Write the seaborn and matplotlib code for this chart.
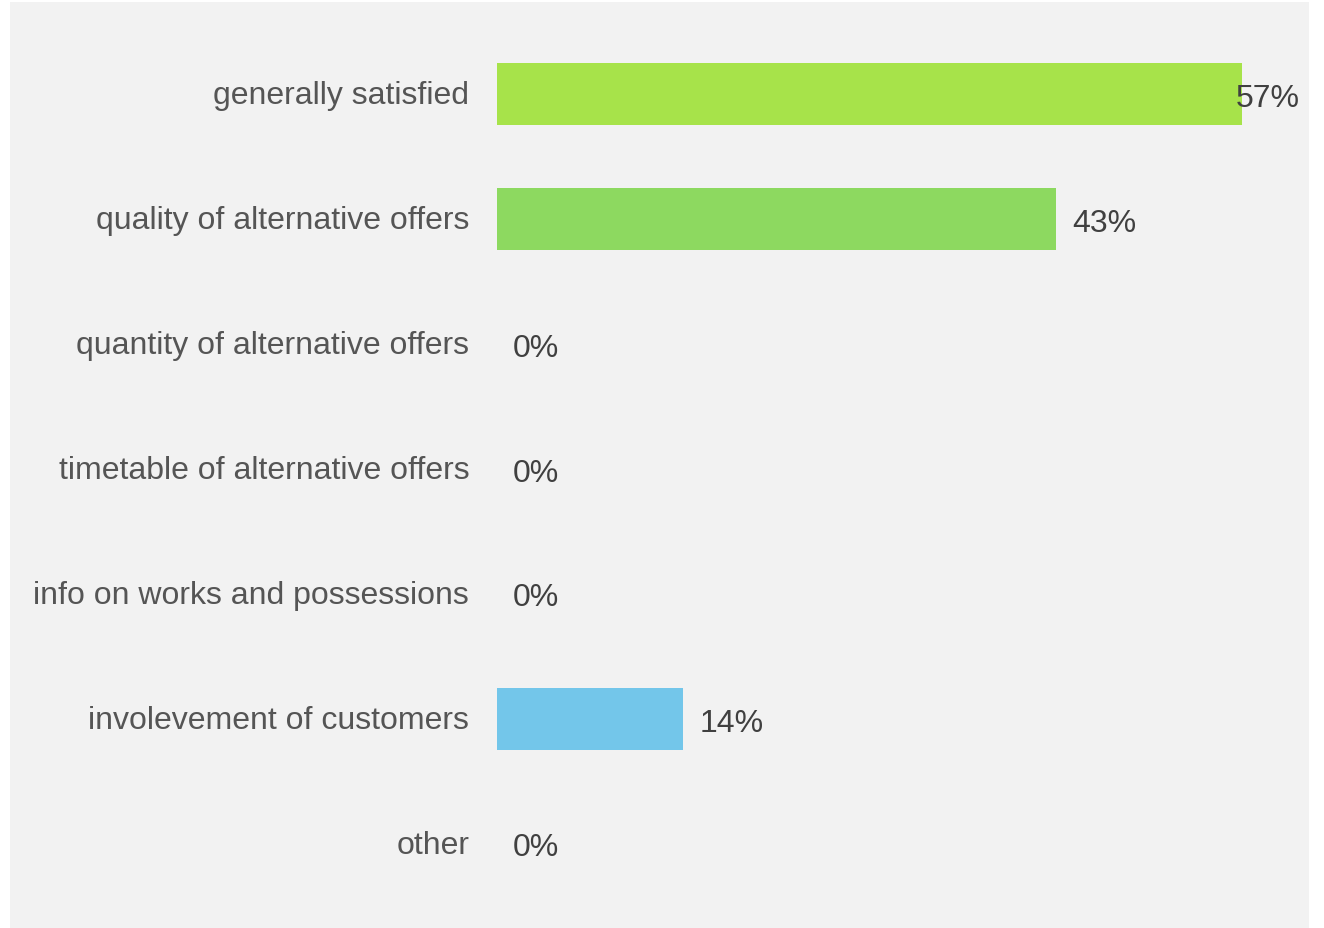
import matplotlib
matplotlib.use("Agg")
import matplotlib.pyplot as plt
import seaborn as sns
import pandas as pd
from matplotlib.patches import Rectangle
from matplotlib.transforms import offset_copy, ScaledTranslation

categories = ["generally satisfied", "quality of alternative offers",
              "quantity of alternative offers", "timetable of alternative offers",
              "info on works and possessions", "involevement of customers", "other"]
values = [57.14, 42.86, 0, 0, 0, 14.29, 0]
labels = ["57%", "43%", "0%", "0%", "0%", "14%", "0%"]
colors = ["#a7e34a", "#8dd960", "#8dd960", "#8dd960", "#8dd960", "#73c6ea", "#73c6ea"]

sns.set_theme(style="white")
plt.rcParams['font.family'] = ['Liberation Sans', 'DejaVu Sans']

W, H = 1324, 929
fig = plt.figure(figsize=(W / 100, H / 100), dpi=100)
fig.patch.set_facecolor("white")
bg = Rectangle((10 / W, 1 - 929 / H), (1309 - 10) / W, (929 - 3) / H,
               transform=fig.transFigure, facecolor="#f2f2f2",
               edgecolor="none", zorder=-10)
fig.add_artist(bg)

ax_l, ax_r = 497, 1308
ax_t, ax_b = 32.5, 907.5
ax = fig.add_axes([ax_l / W, 1 - ax_b / H, (ax_r - ax_l) / W, (ax_b - ax_t) / H])
ax.set_zorder(5)
ax.set_facecolor("none")
ax.patch.set_alpha(0)

df = pd.DataFrame({"cat": categories, "val": values})
sns.barplot(data=df, x="val", y="cat", hue="cat", palette=colors, legend=False,
            width=0.5, ax=ax, saturation=1, edgecolor="none")

xmax = 57.14 * (ax_r - ax_l) / (1242 - ax_l)
ax.set_xlim(0, xmax)
ax.set_ylim(6.5, -0.5)
ax.set_xlabel("")
ax.set_ylabel("")
ax.set_xticks([])
for s in ax.spines.values():
    s.set_visible(False)
ax.tick_params(axis="y", length=0, pad=20, labelsize=23, labelcolor="#555555")
shift = ScaledTranslation(0, 2.5 / 100, fig.dpi_scale_trans)
for t in ax.get_yticklabels():
    t.set_transform(t.get_transform() + shift)

for i, (v, lab) in enumerate(zip(values, labels)):
    if v / xmax > 0.88:
        tr = offset_copy(ax.get_yaxis_transform(), fig=fig, x=-8, y=0, units="dots")
        ax.text(1.0, i, lab, transform=tr, ha="right", va="center_baseline",
                fontsize=23, color="#404040")
    else:
        tr = offset_copy(ax.transData, fig=fig, x=16, y=0, units="dots")
        ax.text(v, i, lab, transform=tr, ha="left", va="center_baseline",
                fontsize=23, color="#404040")

fig.savefig("out.png", dpi=100)
